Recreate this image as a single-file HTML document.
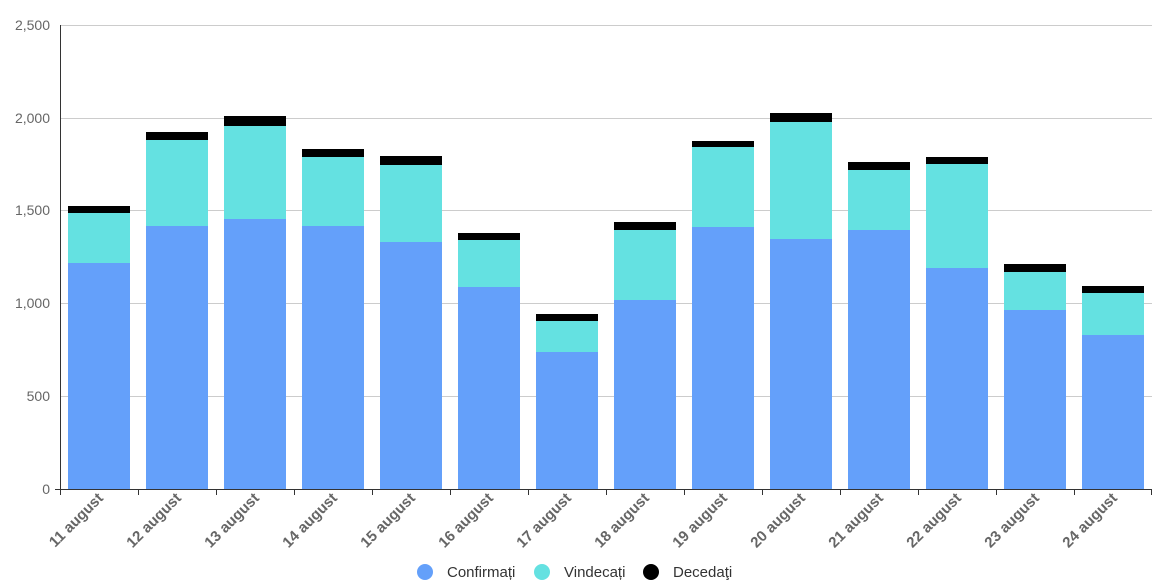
<!DOCTYPE html>
<html><head><meta charset="utf-8"><style>body{margin:0;background:#fff}svg{display:block;font-family:"Liberation Sans",sans-serif}</style></head><body>
<svg width="1152" height="587" xmlns="http://www.w3.org/2000/svg">
<g stroke="#ccc" stroke-width="1">
<line x1="60" y1="25.5" x2="1152" y2="25.5"/><line x1="60" y1="118.5" x2="1152" y2="118.5"/><line x1="60" y1="210.5" x2="1152" y2="210.5"/><line x1="60" y1="303.5" x2="1152" y2="303.5"/><line x1="60" y1="396.5" x2="1152" y2="396.5"/>
</g>
<g font-size="14" fill="#666" text-anchor="end">
<text x="50" y="30">2,500</text><text x="50" y="123">2,000</text><text x="50" y="215">1,500</text><text x="50" y="308">1,000</text><text x="50" y="401">500</text><text x="50" y="494">0</text>
</g>
<g id="bars"></g>
<line x1="60.5" y1="25" x2="60.5" y2="489" stroke="#333"/>
<line x1="55" y1="489.5" x2="1152" y2="489.5" stroke="#333"/>
<g id="ticks" stroke="#333"></g>
<g id="labels" font-size="15" font-weight="bold" fill="#666" text-anchor="end"></g>
<g font-size="15" fill="#333">
<circle cx="425" cy="572" r="8" fill="#64a0fa"/><text x="447" y="577">Confirmați</text>
<circle cx="542" cy="572" r="8" fill="#64e1e1"/><text x="564" y="577">Vindecați</text>
<circle cx="651" cy="572" r="8" fill="#000"/><text x="673" y="577">Decedaţi</text>
</g>
<script>
var d=[[263,213,206],[226,140,132],[219,126,116],[226,157,149],[242,165,156],[287,240,233],[352,321,314],[300,230,222],[227,147,141],[239,122,113],[230,170,162],[268,164,157],[310,272,264],[335,293,286]];
var ns="http://www.w3.org/2000/svg",b=document.getElementById("bars"),t=document.getElementById("ticks"),l=document.getElementById("labels");
function r(x,y,h,c){var e=document.createElementNS(ns,"rect");e.setAttribute("x",x);e.setAttribute("y",y);e.setAttribute("width",62);e.setAttribute("height",h);e.setAttribute("fill",c);b.appendChild(e);}
d.forEach(function(v,i){var x=68+78*i;
r(x,v[2],v[1]-v[2],"#000");r(x,v[1],v[0]-v[1],"#64e1e1");r(x,v[0],489-v[0],"#64a0fa");
var tk=document.createElementNS(ns,"line");var tx=60.5+78*i;tk.setAttribute("x1",tx);tk.setAttribute("x2",tx);tk.setAttribute("y1",489);tk.setAttribute("y2",495);t.appendChild(tk);
var tx2=document.createElementNS(ns,"text");var cx=99+78*i+5;tx2.setAttribute("transform","translate("+cx+",499) rotate(-45)");tx2.textContent=(11+i)+" august";l.appendChild(tx2);});
var tk=document.createElementNS(ns,"line");tk.setAttribute("x1",1151.5);tk.setAttribute("x2",1151.5);tk.setAttribute("y1",489);tk.setAttribute("y2",495);t.appendChild(tk);
</script>
</svg>
</body></html>
